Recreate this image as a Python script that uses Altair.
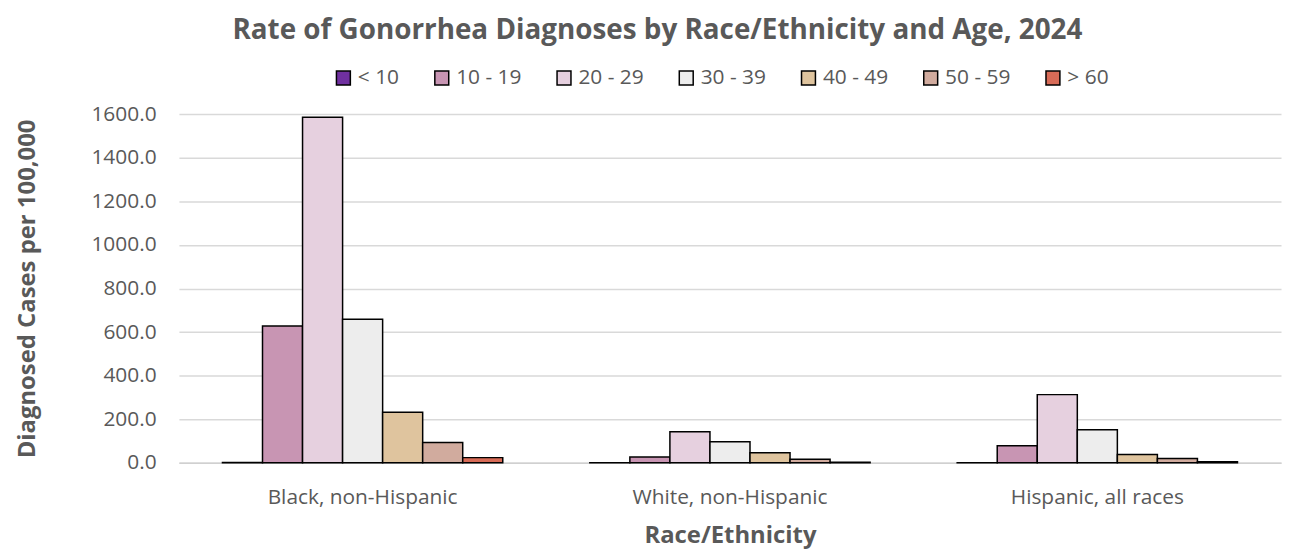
import altair as alt
import pandas as pd

groups = ["Black, non-Hispanic", "White, non-Hispanic", "Hispanic, all races"]
ages = ["< 10", "10 - 19", "20 - 29", "30 - 39", "40 - 49", "50 - 59", "> 60"]
black = [2, 628, 1585, 659, 232, 93, 24]
white = [1, 27, 143, 97, 46, 17, 3]
hispanic = [1, 79, 313, 152, 38, 20, 5]
colors = ["#7030A0", "#C895B3", "#E6D0DF", "#EDEDED", "#DFC49E", "#D1AB9E", "#D86B57"]
y_ticks = [0, 200, 400, 600, 800, 1000, 1200, 1400, 1600]

rows = []
for g, vals in zip(groups, [black, white, hispanic]):
    for a, v in zip(ages, vals):
        rows.append({"group": g, "age": a, "rate": v})
df = pd.DataFrame(rows)

FONT = "Open Sans"
GREY = "#595959"

chart = alt.Chart(df).mark_bar(stroke="black", strokeWidth=1.5).encode(
    x=alt.X("group:N", sort=groups, title="Race/Ethnicity",
            scale=alt.Scale(paddingInner=0.237, paddingOuter=0.1185),
            axis=alt.Axis(labelAngle=0, labelFontSize=21, labelColor=GREY, labelFont=FONT,
                          labelPadding=24, labelLimit=0, ticks=False, domainColor="#D0D0D0",
                          domainWidth=1.5,
                          titleFontSize=24, titleFont=FONT, titleFontWeight="bold",
                          titleColor=GREY, titlePadding=16)),
    xOffset=alt.XOffset("age:N", sort=ages, scale=alt.Scale(paddingInner=0, paddingOuter=0)),
    y=alt.Y("rate:Q", title="Diagnosed Cases per 100,000",
            scale=alt.Scale(domain=[0, 1600], nice=False),
            axis=alt.Axis(values=y_ticks, format=".1f", labelFontSize=21, labelColor=GREY,
                          labelFont=FONT, labelPadding=23, ticks=False, domain=False,
                          gridColor="#D9D9D9", gridWidth=1.5,
                          titleFontSize=24, titleFont=FONT, titleFontWeight="bold",
                          titleColor=GREY, titlePadding=52)),
    color=alt.Color("age:N", sort=ages, scale=alt.Scale(domain=ages, range=colors),
                    legend=alt.Legend(title=None, orient="none", legendX=155, legendY=-47,
                                      direction="horizontal", symbolType="square",
                                      symbolSize=196, symbolStrokeColor="black",
                                      symbolStrokeWidth=1.5, symbolOpacity=1,
                                      labelFontSize=21, labelFont=FONT, labelColor=GREY,
                                      labelOffset=4, columnPadding=32, padding=0)),
).properties(
    width=1109, height=351,
    title=alt.TitleParams("Rate of Gonorrhea Diagnoses by Race/Ethnicity and Age, 2024",
                          fontSize=28, font=FONT, fontWeight="bold", color=GREY,
                          anchor="middle", offset=23, dx=-73),
    autosize="none",
    padding={"left": 172, "top": 105, "right": 2, "bottom": 90},
).configure_view(stroke=None)

chart.save("out.html", embed_options={"renderer": "svg", "actions": False})
